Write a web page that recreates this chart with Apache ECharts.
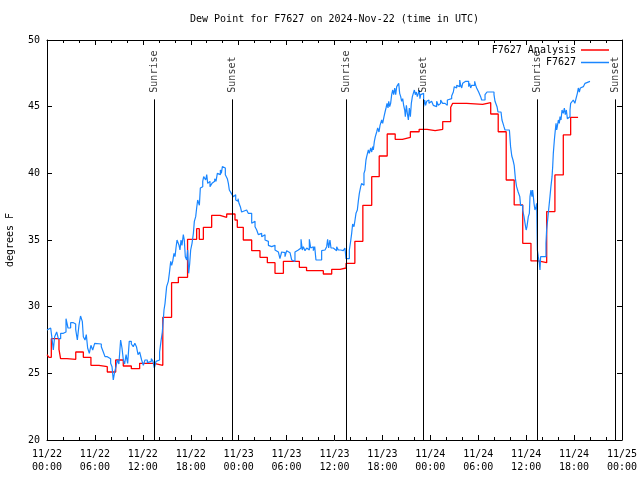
<!DOCTYPE html>
<html><head><meta charset="utf-8">
<script src="https://cdn.jsdelivr.net/npm/echarts@6/dist/echarts.min.js"></script>
<style>html,body{margin:0;padding:0;background:#fff}#c{width:640px;height:480px}</style>
</head><body><div id="c"></div>
<script>
const chartTitle = 'Dew Point for F7627 on 2024-Nov-22 (time in UTC)';
const yAxisTitle = 'degrees F';
const xTickLabels = ['11/22\n00:00','11/22\n06:00','11/22\n12:00','11/22\n18:00','11/23\n00:00','11/23\n06:00','11/23\n12:00','11/23\n18:00','11/24\n00:00','11/24\n06:00','11/24\n12:00','11/24\n18:00','11/25\n00:00'];
const analysisName = 'F7627 Analysis';
const obsName = 'F7627';
// [hours since 11/22 00:00 UTC, dew point F]
const analysisPoints = [[0,26.4],[0.25,26.2],[0.54,27.6],[1.5,26.8],[1.7,26.1],[2.5,26.05],[3.6,26.6],[4.55,26.2],[5.5,25.6],[6.5,25.5],[7.55,25.1],[8.6,26.0],[9.55,25.55],[10.56,25.35],[11.6,25.75],[13.4,25.6],[14.5,29.2],[15.6,31.8],[16.45,32.2],[17.6,35.05],[18.74,35.85],[19.07,35.05],[19.58,35.95],[20.62,36.85],[21.66,36.7],[22.5,36.95],[23.54,36.5],[23.83,35.95],[24.58,35.0],[25.63,34.2],[26.67,33.7],[27.59,33.3],[28.55,32.5],[29.6,33.4],[31.6,32.95],[32.5,32.7],[34.6,32.45],[35.65,32.8],[36.7,32.9],[37.45,33.25],[38.55,34.9],[39.55,37.6],[40.66,39.75],[41.6,41.3],[42.6,42.95],[43.6,42.55],[44.5,42.7],[45.5,43.12],[46.6,43.3],[47.6,43.2],[48.6,43.3],[49.55,43.88],[50.55,44.95],[50.8,45.25],[52.55,45.17],[54.55,45.3],[55.56,44.45],[56.5,43.12],[57.5,39.5],[58.5,37.63],[59.57,34.75],[60.6,33.43],[61.5,33.3],[62.57,37.13],[63.6,39.88],[64.65,42.88],[65.57,44.2],[66.5,44.2]];
const obsDay1 = [[0,28.25],[0.25,28.4],[0.46,28.5],[0.67,27.4],[0.79,26.75],[0.96,27.75],[1.21,28.1],[1.42,27.6],[1.71,28.0],[2.05,28.1],[2.38,29.1],[2.63,28.4],[2.96,28.8],[3.3,28.7],[3.59,28.3],[3.8,27.5],[4.0,28.6],[4.2,29.3],[4.42,28.9],[4.55,27.75],[4.76,27.5],[4.92,27.9],[5.09,26.9],[5.3,26.5],[5.5,27.1],[5.72,26.75],[5.97,27.25],[6.22,27.2],[6.8,27.0],[7.05,26.6],[7.26,26.25],[7.55,26.4],[7.76,26.1],[7.97,25.75],[8.14,25.5],[8.3,24.5],[8.47,25.1],[8.64,25.5],[8.8,26.0],[9.0,25.7],[9.22,27.5],[9.39,26.9],[9.56,26.0],[9.72,25.7],[9.9,26.4],[10.1,25.75],[10.3,27.4],[10.56,27.2],[10.8,27.0],[11.0,27.25],[11.2,27.0],[11.4,26.4],[11.6,26.6],[11.85,26.0],[12.06,25.6],[12.27,26.0],[12.56,25.8],[12.8,25.9],[13.06,26.1],[13.27,25.9],[13.44,25.4],[13.65,25.9],[13.9,26.0],[14.1,26.6],[14.27,27.4],[14.44,28.1],[14.57,29.1],[14.65,29.75],[14.78,30.25],[14.98,31.5],[15.19,31.9],[15.32,32.5],[15.49,33.4],[15.61,33.1],[15.74,33.4],[15.9,34.0],[16.03,33.75],[16.15,34.4],[16.28,35.0],[16.4,35.1],[16.53,34.6],[16.65,34.25],[16.78,35.0],[16.9,34.6],[17.07,35.4],[17.19,35.0],[17.32,33.75],[17.49,33.5],[17.61,34.25],[17.74,32.5],[17.87,33.25],[17.99,34.25],[18.16,34.75],[18.33,35.5],[18.45,36.4],[18.62,36.75],[18.74,37.4],[18.87,38.0],[18.99,38.1],[19.08,37.6],[19.2,38.9],[19.37,39.0],[19.5,39.4],[19.62,39.75],[19.75,39.9],[19.87,39.5],[20.0,39.9],[20.12,39.25],[20.25,39.4],[20.41,39.0],[20.54,38.9],[20.66,39.25],[20.83,39.4],[21.0,39.6],[21.16,39.4],[21.33,40.0],[21.46,40.1],[21.58,39.9],[21.71,40.25],[21.83,40.0],[21.96,40.5],[22.08,40.6],[22.21,40.4],[22.33,39.9],[22.46,40.0],[22.58,39.6],[22.71,39.25],[22.83,38.75],[22.96,38.9],[23.08,38.5],[23.21,38.6],[23.33,38.25],[23.5,38.4],[23.63,38.0],[23.75,37.9],[23.92,38.1]];
const obsDay2 = [[24.04,37.75],[24.21,37.5],[24.37,37.1],[24.54,37.25],[25.0,37.3],[25.2,37.0],[25.63,36.25],[25.84,36.4],[26.05,36.0],[26.26,35.75],[26.46,35.4],[26.67,35.5],[26.88,35.25],[27.09,35.4],[27.3,35.0],[27.51,34.9],[27.72,34.6],[27.92,34.5],[28.13,34.4],[28.34,34.6],[28.55,34.25],[28.76,34.1],[28.97,34.0],[29.17,33.6],[29.38,34.1],[29.59,34.05],[29.8,33.75],[30.01,34.2],[30.22,34.05],[30.43,33.9],[30.64,33.5],[30.85,33.4],[31.05,34.1],[31.26,34.25],[31.47,34.2],[31.68,34.4],[31.81,35.05],[31.97,34.25],[32.1,34.5],[32.31,34.2],[32.52,34.4],[32.73,34.25],[32.85,35.05],[33.02,34.4],[33.18,34.5],[33.35,34.2],[33.52,34.5],[33.68,33.5],[33.98,33.45],[34.18,33.5],[34.39,34.2],[34.6,34.25],[34.81,34.2],[35.02,34.5],[35.14,35.05],[35.27,34.4],[35.43,35.0],[35.56,34.4],[35.85,34.25],[36.06,34.2],[36.27,34.5],[36.48,34.25],[36.77,34.2],[37.1,34.25],[37.31,34.4],[37.44,33.6],[37.86,34.25],[38.02,34.9],[38.15,35.5],[38.27,36.2],[38.44,36.0],[38.57,36.5],[38.69,37.0],[38.86,37.25],[38.98,37.9],[39.11,38.5],[39.28,39.0],[39.4,39.25],[39.53,39.1],[39.69,40.0],[39.82,40.25],[39.94,41.0],[40.03,41.25],[40.11,41.1],[40.24,41.75],[40.36,41.5],[40.53,41.9],[40.66,41.6],[40.78,42.0],[40.86,41.75],[40.99,42.4],[41.11,42.75],[41.28,43.1],[41.41,43.4],[41.57,43.1],[41.7,43.6],[41.91,44.0],[42.03,43.75],[42.2,44.25],[42.33,44.6],[42.45,44.9],[42.58,45.25],[42.7,44.9],[42.79,45.4],[42.91,45.0],[43.03,45.25],[43.16,45.9],[43.29,46.25],[43.41,45.9],[43.54,46.4],[43.66,45.9],[43.79,46.5],[43.91,46.6],[44.04,46.75],[44.16,46.0],[44.29,45.75],[44.41,45.4],[44.54,45.6],[44.66,45.1],[44.79,44.75],[44.87,44.25],[45.0,45.1],[45.12,44.5],[45.25,44.0],[45.37,44.9],[45.5,44.25],[45.62,45.25],[45.75,45.75],[45.87,46.0],[46.0,46.25],[46.12,45.9],[46.25,46.1],[46.37,45.75],[46.5,46.0],[46.62,46.25],[46.7,45.6],[46.79,45.9],[46.91,45.75],[47.04,46.0],[47.16,45.0],[47.29,45.5],[47.41,45.1],[47.54,45.4],[47.66,45.5],[47.83,45.25]];
const obsDay3 = [[47.95,45.4],[48.16,45.5],[48.37,45.1],[48.58,45.0],[48.79,45.4],[49.0,45.1],[49.2,45.25],[49.29,45.5],[49.54,45.25],[49.84,45.1],[50.13,45.5],[50.38,45.6],[50.67,45.8],[50.88,46.1],[51.0,46.5],[51.13,46.4],[51.3,46.6],[51.42,46.75],[51.55,46.5],[51.68,47.0],[51.8,46.6],[51.93,46.4],[52.05,46.75],[52.18,46.6],[52.3,46.9],[52.43,47.0],[52.68,46.9],[52.8,46.5],[52.93,46.75],[53.05,46.4],[53.18,46.6],[53.3,46.5],[53.43,46.6],[53.55,46.9],[53.68,46.6],[53.8,46.4],[53.93,46.25],[54.05,46.1],[54.18,46.0],[54.3,45.75],[54.43,45.5],[54.55,45.6],[54.68,45.5],[54.85,45.9],[54.97,46.0],[55.1,46.1],[55.97,45.9],[56.1,45.4],[56.22,45.25],[56.35,45.0],[56.47,44.6],[56.6,44.5],[56.72,44.6],[56.85,44.5],[56.97,44.0],[57.1,43.75],[57.22,43.5],[57.35,43.25],[57.9,43.1],[58.05,42.0],[58.2,41.3],[58.35,41.0],[58.5,40.6],[58.65,39.6],[58.8,39.0],[59.0,38.6],[59.2,38.25],[59.3,37.6],[59.56,37.25],[59.73,36.75],[59.86,36.25],[59.95,36.4],[60.0,35.75],[60.1,36.0],[60.27,36.75],[60.4,37.0],[60.48,38.25],[60.6,38.75],[60.73,38.25],[60.81,38.75],[60.9,38.25],[60.98,37.75],[61.1,37.25],[61.23,37.5],[61.32,37.75],[61.4,34.25],[61.52,33.75],[61.65,33.25],[61.73,32.75],[61.81,33.75],[62.48,34.75],[62.56,35.75],[62.69,36.5],[62.81,37.25],[62.98,38.25],[63.1,39.0],[63.24,39.75],[63.32,40.5],[63.4,41.5],[63.53,42.5],[63.65,43.25],[63.74,43.75],[63.82,43.25],[63.9,43.5],[64.03,44.0],[64.15,43.75],[64.24,44.25],[64.36,44.0],[64.49,44.75],[64.65,44.5],[64.78,44.9],[64.9,44.4],[65.03,44.75],[65.16,44.1],[65.28,44.0],[65.4,44.25],[65.49,44.75],[65.57,45.25],[65.7,45.4],[65.82,45.25],[65.9,45.5],[66.1,45.25],[66.24,45.6],[66.41,46.0],[66.53,46.4],[66.66,46.1],[66.78,46.4],[66.95,46.5],[67.16,46.6],[67.37,46.75],[67.57,46.9],[67.99,46.9]];
const sunEventHours = [13.43, 23.2, 37.44, 47.12, 61.42, 71.16];
const sunEventNames = ['Sunrise','Sunset','Sunrise','Sunset','Sunrise','Sunset'];
const sunLineTop = 45.55;
const sunLabelBase = 46.05;

const MONO = '"DejaVu Sans Mono", "Liberation Mono", monospace';
const obsPoints = obsDay1.concat(obsDay2, obsDay3);
const chart = echarts.init(document.getElementById('c'), null, {renderer: 'canvas'});
const axisBase = {
  type: 'value', min: 0, max: 72, interval: 6,
  axisLine: {show: true, onZero: false, lineStyle: {color: '#000', width: 1}},
  axisTick: {show: true, inside: true, length: 5, lineStyle: {color: '#000'}},
  minorTick: {show: true, splitNumber: 3, length: 3, lineStyle: {color: '#000'}},
  splitLine: {show: false}
};
const yBase = {
  type: 'value', min: 20, max: 50, interval: 5,
  axisLine: {show: true, onZero: false, lineStyle: {color: '#000', width: 1}},
  axisTick: {show: true, inside: true, length: 5, lineStyle: {color: '#000'}},
  splitLine: {show: false}
};
chart.setOption({
  animation: false,
  backgroundColor: '#fff',
  title: {text: chartTitle, left: 190, top: 14, padding: 0,
    textStyle: {fontFamily: MONO, fontSize: 10, fontWeight: 'normal', color: '#000'}},
  legend: [
    {data: [analysisName], orient: 'vertical', right: 31, top: 45, padding: 0, align: 'right',
     icon: 'rect', itemWidth: 28, itemHeight: 1.5,
     textStyle: {fontFamily: MONO, fontSize: 10, color: '#000'}},
    {data: [obsName], orient: 'vertical', right: 31, top: 57.5, padding: 0, align: 'right',
     icon: 'rect', itemWidth: 28, itemHeight: 1.5,
     textStyle: {fontFamily: MONO, fontSize: 10, color: '#000'}}
  ],
  grid: {left: 47, top: 40, width: 575, height: 400, containLabel: false, outerBoundsMode: 'none'},
  xAxis: [
    Object.assign({}, axisBase, {position: 'bottom',
      axisLabel: {show: true, margin: 8, fontFamily: MONO, fontSize: 10, color: '#000', lineHeight: 13,
        formatter: v => xTickLabels[Math.round(v / 6)]}}),
    Object.assign({}, axisBase, {position: 'top', axisLabel: {show: false}})
  ],
  yAxis: [
    Object.assign({}, yBase, {position: 'left', name: yAxisTitle, nameLocation: 'middle', nameRotate: 90, nameGap: 32,
      nameTextStyle: {fontFamily: MONO, fontSize: 10, color: '#000'},
      axisLabel: {show: true, margin: 7, fontFamily: MONO, fontSize: 10, color: '#000'}}),
    Object.assign({}, yBase, {position: 'right', axisLabel: {show: false}})
  ],
  series: [
    {name: analysisName, type: 'line', step: 'end', data: analysisPoints, showSymbol: false, symbol: 'none',
     lineStyle: {color: '#ff0000', width: 1.3}, itemStyle: {color: '#ff0000'}, z: 2},
    {name: obsName, type: 'line', step: 'end', data: obsPoints, showSymbol: false, symbol: 'none',
     lineStyle: {color: '#1a86ff', width: 1.2}, itemStyle: {color: '#1a86ff'}, z: 3},
    {name: 'sun', type: 'scatter', symbolSize: 0, z: 4, silent: true,
     data: sunEventHours.map((h, i) => ({value: [h, sunLabelBase], name: sunEventNames[i]})),
     label: {show: true, formatter: '{b}', position: 'inside', align: 'left', verticalAlign: 'middle', rotate: 90,
       fontFamily: MONO, fontSize: 10, color: '#000'},
     markLine: {silent: true, symbol: ['none', 'none'], animation: false,
       lineStyle: {color: '#000', width: 1, type: 'solid'}, label: {show: false},
       emphasis: {disabled: true},
       data: sunEventHours.map(h => [{coord: [h, 20]}, {coord: [h, sunLineTop]}])}}
  ]
});
</script></body></html>
